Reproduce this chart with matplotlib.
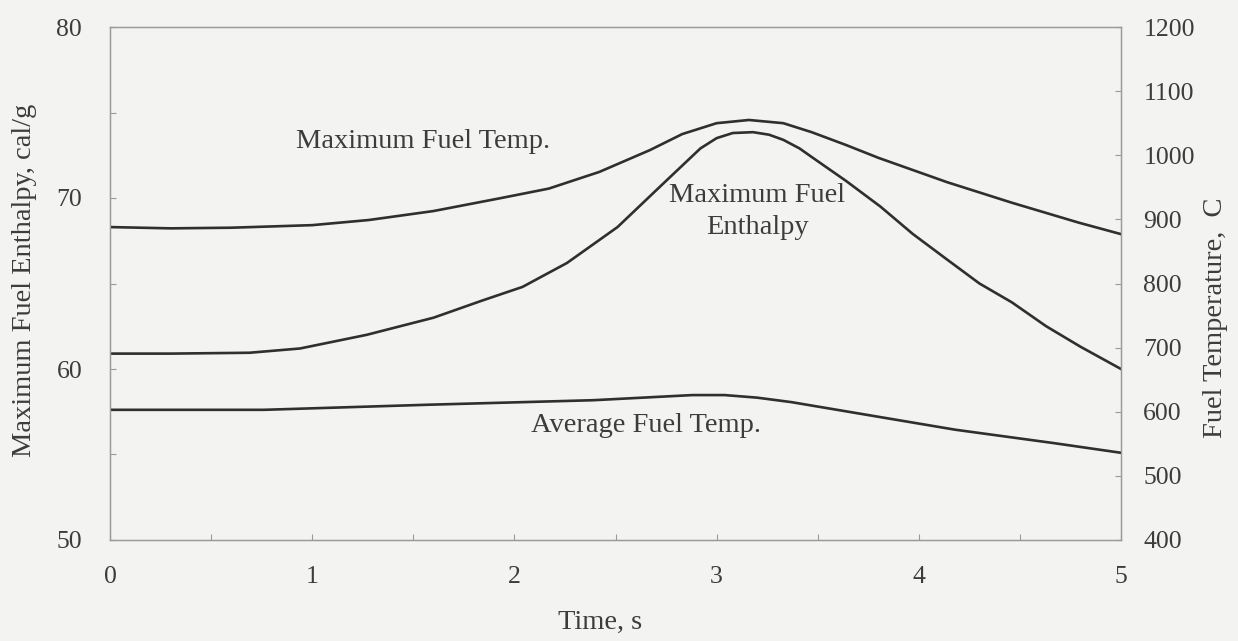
import matplotlib.pyplot as plt
from matplotlib.ticker import MultipleLocator

# maximum fuel enthalpy (cal/g), left axis
t_enth = [0.0, 0.3, 0.69, 0.94, 1.27, 1.60, 1.84, 2.04, 2.26, 2.51, 2.75, 2.92,
          3.0, 3.08, 3.18, 3.26, 3.33, 3.41, 3.47, 3.64, 3.81, 3.97, 4.14, 4.30,
          4.46, 4.63, 4.80, 5.0]
enthalpy = [60.9, 60.9, 60.95, 61.2, 62.0, 63.0, 64.0, 64.8, 66.2, 68.3, 71.0, 72.9,
            73.5, 73.8, 73.85, 73.7, 73.4, 72.9, 72.4, 71.0, 69.5, 67.9, 66.4, 65.0,
            63.9, 62.5, 61.3, 60.0]

# maximum fuel temperature (C), right axis
t_tmax = [0.0, 0.3, 0.6, 1.0, 1.28, 1.6, 1.93, 2.17, 2.42, 2.67, 2.83, 3.0,
          3.16, 3.33, 3.47, 3.64, 3.8, 4.14, 4.46, 4.79, 5.0]
temp_max = [888, 886, 887, 891, 899, 913, 933, 948, 974, 1008, 1033, 1050,
            1055, 1050, 1036, 1016, 996, 958, 926, 895, 877]

# average fuel temperature (C), right axis
t_tavg = [0.0, 0.76, 1.58, 2.39, 2.88, 3.04, 3.2, 3.37, 3.69, 4.18, 4.67, 5.0]
temp_avg = [603, 603, 611, 618, 626, 626, 622, 615, 598, 572, 551, 536]

x_ticks = [0, 1, 2, 3, 4, 5]
left_ticks = [50, 60, 70, 80]
right_ticks = [400, 500, 600, 700, 800, 900, 1000, 1100, 1200]

plt.rcParams['font.family'] = ['Liberation Serif', 'DejaVu Serif']
ink = '#3c3c3c'
line_c = '#2f2f2f'
spine_c = '#9a9a9a'
bg = '#f3f3f1'

fig = plt.figure(figsize=(12.38, 6.41), dpi=100, facecolor=bg)
ax = fig.add_axes([110 / 1238, 1 - 540 / 641, 1011 / 1238, 513 / 641])
ax.set_facecolor(bg)
ax2 = ax.twinx()

ax.plot(t_enth, enthalpy, color=line_c, lw=1.9, solid_joinstyle='round')
ax2.plot(t_tmax, temp_max, color=line_c, lw=1.9, solid_joinstyle='round')
ax2.plot(t_tavg, temp_avg, color=line_c, lw=1.9, solid_joinstyle='round')

ax.set_xlim(0, 5)
ax.set_ylim(50, 80)
ax2.set_ylim(400, 1200)

ax.set_xticks(x_ticks)
ax.xaxis.set_minor_locator(MultipleLocator(0.5))
ax.set_yticks(left_ticks)
ax.yaxis.set_minor_locator(MultipleLocator(5))
ax2.set_yticks(right_ticks)

ax.tick_params(axis='x', which='both', direction='in', length=4, width=0.8,
               color=spine_c, labelsize=18.5, labelcolor=ink, pad=19)
ax.tick_params(axis='y', which='both', direction='in', length=4, width=0.8,
               color=spine_c, labelsize=18.5, labelcolor=ink, pad=20)
ax2.tick_params(axis='y', direction='in', length=4, width=0.8,
                color=spine_c, labelsize=18.5, labelcolor=ink, pad=16)

for a in (ax, ax2):
    for s in a.spines.values():
        s.set_color(spine_c)
        s.set_linewidth(0.9)

txt = dict(color=ink, fontsize=20.5)
ax2.text(1.55, 1021, 'Maximum Fuel Temp.', ha='center', va='center', **txt)
ax2.text(3.2, 912, 'Maximum Fuel\nEnthalpy', ha='center', va='center',
         linespacing=1.35, **txt)
ax2.text(2.65, 579, 'Average Fuel Temp.', ha='center', va='center', **txt)

fig.text(600 / 1238, 1 - 622 / 641, 'Time, s', ha='center', va='center', **txt)
fig.text(25 / 1238, 1 - 280 / 641, 'Maximum Fuel Enthalpy, cal/g',
         rotation=90, ha='center', va='center', **txt)
fig.text(1216 / 1238, 1 - 318 / 641, 'Fuel Temperature,  C',
         rotation=90, ha='center', va='center', **txt)

fig.savefig('out.png', dpi=100, facecolor=bg)
